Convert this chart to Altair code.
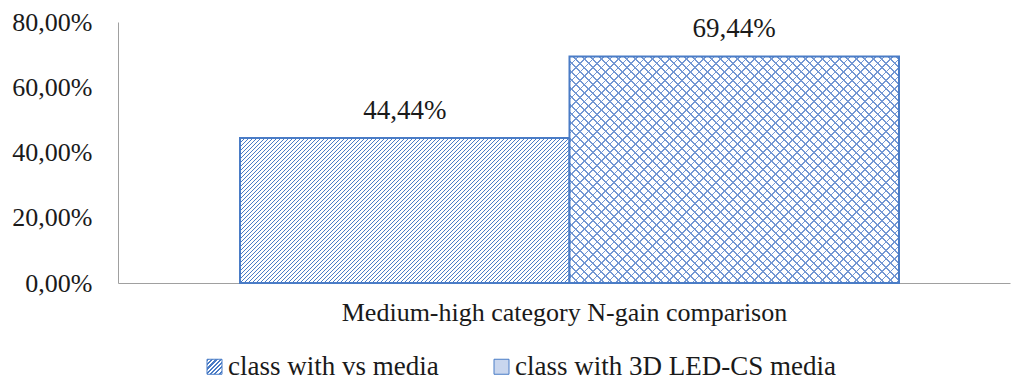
import json
import altair as alt
import pandas as pd

# ---- data ----
category = ["Medium-high category N-gain comparison"]
series = ["class with vs media", "class with 3D LED-CS media"]
values = [0.4444, 0.6944]
y_ticks = [0.0, 0.2, 0.4, 0.6, 0.8]

df = pd.DataFrame({
    "category": category * len(series),
    "series": series,
    "value": values,
})

# ---- layout / style ----
W, H = 892, 261
Y_MAX = 0.8
PAD_OUTER = 0.1768
ALIGN = 0.5236
BLUE = "#4a7cc6"
LINE = "#7397d3"
WHITE = "#ffffff"
CLEAR = "rgba(255,255,255,0)"
FONT = "Liberation Serif"
TEXT = "#1a1a1a"
AXIS = "#a0a0a0"


def stripe_stops(n, frac, color, bg):
    stops = []
    k = 0
    while k / n < 1:
        a = k / n
        b = min((k + frac) / n, 1.0)
        c = min((k + 1) / n, 1.0)
        stops += [
            {"offset": round(a, 6), "color": color},
            {"offset": round(b, 6), "color": color},
            {"offset": round(b, 6), "color": bg},
            {"offset": round(c, 6), "color": bg},
        ]
        k += 1
    return stops


def diag_gradient(w, h, period, frac, color, bg, rising=True):
    r = h / w
    a = (1 + r) / (1 + r * r)
    b = a * r
    n = (w + h) / period
    stops = stripe_stops(n, frac, color, bg)
    if rising:
        return {"gradient": "linear", "x1": 0, "y1": 0, "x2": a, "y2": b, "stops": stops}
    return {"gradient": "linear", "x1": 0, "y1": 1, "x2": a, "y2": 1 - b, "stops": stops}


band = W / (1 + 2 * PAD_OUTER) / len(series)
h1 = values[0] / Y_MAX * H
h2 = values[1] / Y_MAX * H

grad_hatch = diag_gradient(band, h1, 4.0, 0.47, BLUE, WHITE, rising=True)
grad_cross_a = diag_gradient(band, h2, 8.5, 0.18, LINE, WHITE, rising=True)
grad_cross_b = diag_gradient(band, h2, 8.5, 0.18, LINE, CLEAR, rising=False)

legend_grad = diag_gradient(15, 15, 4.3, 0.5, BLUE, WHITE, rising=True)
legend_expr = json.dumps(legend_grad)

label_expr = "replace(format(datum.value, '.2%'), '.', ',')"

base = alt.Chart(df).encode(
    x=alt.X(
        "category:N",
        scale=alt.Scale(paddingOuter=PAD_OUTER, paddingInner=0, align=ALIGN),
        axis=alt.Axis(
            title=None, labelAngle=0, ticks=False, domainColor=AXIS, domainWidth=1,
            labelFont=FONT, labelFontSize=26, labelColor=TEXT, labelPadding=16,
            labelOffset=-5, labelLimit=1000,
        ),
    ),
    xOffset=alt.XOffset(
        "series:N",
        scale=alt.Scale(domain=series, paddingInner=0, paddingOuter=0),
    ),
    y=alt.Y(
        "value:Q",
        scale=alt.Scale(domain=[0, Y_MAX], nice=False),
        axis=alt.Axis(
            title=None, values=y_ticks, labelExpr=label_expr, grid=False, ticks=False,
            domainColor=AXIS, domainWidth=1, labelFont=FONT, labelFontSize=26,
            labelColor=TEXT, labelPadding=26,
        ),
    ),
)

legend_layer = base.mark_bar().encode(
    color=alt.Color(
        "series:N",
        scale=alt.Scale(domain=series, range=[alt.ExprRef(expr=legend_expr), "#c9d6ee"]),
        legend=alt.Legend(
            orient="none", legendX=83, legendY=331, direction="horizontal", title=None,
            symbolType="square", symbolSize=225, symbolStrokeColor=BLUE,
            symbolStrokeWidth=1, labelFont=FONT, labelFontSize=27, labelColor=TEXT,
            labelOffset=0, columnPadding=49, padding=0, labelLimit=1000,
        ),
    )
)

bar1 = base.transform_filter(alt.datum.series == series[0]).mark_bar(
    fill=grad_hatch, stroke=BLUE, strokeWidth=2
)
bar2a = base.transform_filter(alt.datum.series == series[1]).mark_bar(fill=grad_cross_a)
bar2b = base.transform_filter(alt.datum.series == series[1]).mark_bar(
    fill=grad_cross_b, stroke=BLUE, strokeWidth=2
)

labels = base.transform_calculate(label=label_expr).mark_text(
    dy=-19, baseline="alphabetic", font=FONT, fontSize=27, color=TEXT
).encode(text="label:N")

chart = alt.layer(legend_layer, bar1, bar2a, bar2b, labels).properties(
    width=W,
    height=H,
    padding={"left": 118, "top": 22, "right": 2, "bottom": 99},
    autosize=alt.AutoSizeParams(type="none"),
).configure_view(stroke=None)

chart.save("out.html", embed_options={"renderer": "svg", "actions": False})
